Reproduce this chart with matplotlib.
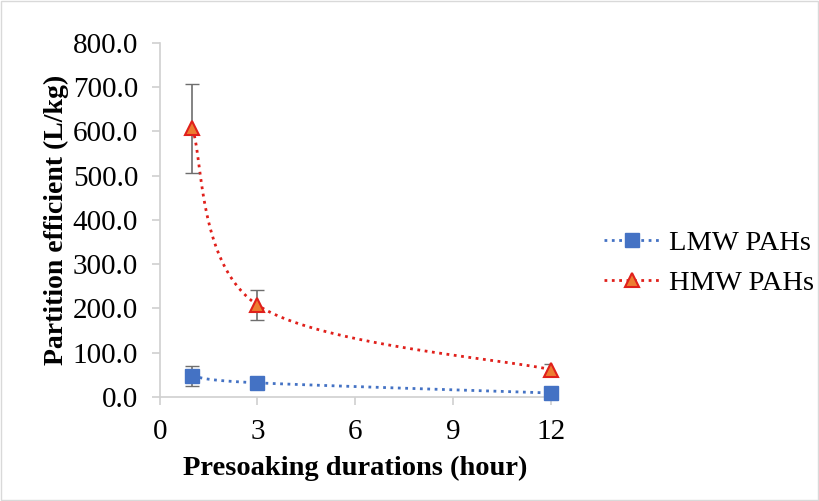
import numpy as np
import matplotlib
matplotlib.use('Agg')
import matplotlib.pyplot as plt

hours = [1, 3, 12]
lmw = [47, 32, 9]
lmw_err = [22, 0, 0]
hmw = [607, 208, 62]
hmw_err = [100, 34, 12]
yticks = [0, 100, 200, 300, 400, 500, 600, 700, 800]
xticks = [0, 3, 6, 9, 12]

plt.rcParams['font.family'] = ['Liberation Serif', 'DejaVu Serif']


def smooth(x, y, n=60):
    # Excel-style smoothed line: cubic bezier with catmull-rom control points
    x = np.asarray(x, float)
    y = np.asarray(y, float)
    xs, ys = [], []
    for i in range(len(x) - 1):
        p0 = np.array([x[max(i - 1, 0)], y[max(i - 1, 0)]])
        p1 = np.array([x[i], y[i]])
        p2 = np.array([x[i + 1], y[i + 1]])
        p3 = np.array([x[min(i + 2, len(x) - 1)], y[min(i + 2, len(x) - 1)]])
        c1 = p1 + (p2 - p0) / 6
        c2 = p2 - (p3 - p1) / 6
        t = np.linspace(0, 1, n)[:, None]
        pts = (1 - t) ** 3 * p1 + 3 * (1 - t) ** 2 * t * c1 + 3 * (1 - t) * t ** 2 * c2 + t ** 3 * p2
        xs.extend(pts[:, 0])
        ys.extend(pts[:, 1])
    return xs, ys


fig = plt.figure(figsize=(8.19, 5.01), dpi=100)
ax = fig.add_axes([0.195, 0.2076, 0.4774, 0.7066])

blue = '#4472c4'
red = '#e0201b'

lx, ly = smooth(hours, lmw)
hx, hy = smooth(hours, hmw)
ax.plot(lx, ly, ':', color=blue, lw=2)
ax.plot(hx, hy, ':', color=red, lw=2)
ax.errorbar(hours, lmw, yerr=lmw_err, fmt='none', ecolor='#6e6e6e', elinewidth=1.2, capsize=5)
ax.errorbar(hours, hmw, yerr=hmw_err, fmt='none', ecolor='#6e6e6e', elinewidth=1.2, capsize=5)
ax.plot(hours, lmw, 's', color=blue, ms=10, mec=blue, clip_on=False, zorder=5)
ax.plot(hours, hmw, '^', color='#ed7d31', ms=10, mec='#e0201b', mew=1.5, clip_on=False, zorder=5)

# legend handles
l1, = ax.plot([], [], ':', color=blue, lw=2, marker='s', ms=10, mfc=blue, mec=blue)
l2, = ax.plot([], [], ':', color=red, lw=2, marker='^', ms=10, mfc='#ed7d31', mec=red, mew=1.5)
fig.legend([l1, l2], ['LMW PAHs', 'HMW PAHs'], loc='center left', bbox_to_anchor=(0.706, 0.475),
           frameon=False, fontsize=20.5, handlelength=2.0, handletextpad=0.3, labelspacing=0.5)

ax.set_xlim(0, 12)
ax.set_ylim(0, 800)
ax.set_xticks(xticks)
ax.set_yticks(yticks)
ax.set_yticklabels(['%.1f' % v for v in yticks])
for s in ['top', 'right']:
    ax.spines[s].set_visible(False)
for s in ['left', 'bottom']:
    ax.spines[s].set_color('#d0d0d0')
    ax.spines[s].set_linewidth(1.2)
ax.tick_params(colors='#d0d0d0', labelcolor='black', labelsize=21, length=6, width=1.2)
ax.tick_params(axis='y', pad=9.5)
ax.tick_params(axis='x', pad=10)
ax.set_xlabel('Presoaking durations (hour)', fontsize=20.5, fontweight='bold', labelpad=7.5)
ax.set_ylabel('Partition efficient (L/kg)', fontsize=20, fontweight='bold', labelpad=3)

fig.patches.append(plt.Rectangle((0.001, 0.001), 0.998, 0.998, transform=fig.transFigure,
                                 fill=False, edgecolor='#d9d9d9', lw=1))
fig.savefig('out.png', dpi=100)
